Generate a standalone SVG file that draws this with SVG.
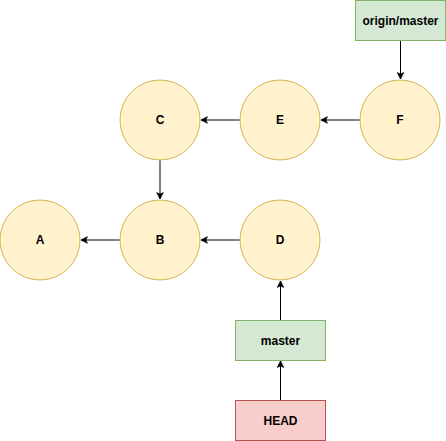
<svg xmlns="http://www.w3.org/2000/svg" width="446" height="441" viewBox="0 0 446 441">
<style>
.commit{fill:#fff2cc;stroke:#d6b656;stroke-width:1}
.ref{fill:#d5e8d4;stroke:#82b366;stroke-width:1}
.head{fill:#f8cecc;stroke:#b85450;stroke-width:1}
.lbl{font-family:"Liberation Sans",Arial,sans-serif;font-size:12px;font-weight:bold;fill:#000;text-anchor:middle;dominant-baseline:central}
.edge{stroke:#000;stroke-width:1;fill:none;marker-end:url(#arr)}
</style>
<defs>
<marker id="arr" viewBox="0 0 10 10" refX="9" refY="5" markerWidth="8" markerHeight="8" markerUnits="userSpaceOnUse" orient="auto">
<path d="M1,1 L9,5 L1,9 L3,5 Z" fill="#000" stroke="#000" stroke-width="1"/>
</marker>
</defs>
<g id="connectors">
<line class="edge" x1="120" y1="240" x2="81" y2="240"/>
<line class="edge" x1="240" y1="240" x2="201" y2="240"/>
<line class="edge" x1="160" y1="160" x2="160" y2="199"/>
<line class="edge" x1="240" y1="120" x2="201" y2="120"/>
<line class="edge" x1="360" y1="120" x2="321" y2="120"/>
<line class="edge" x1="400.5" y1="40.5" x2="400.5" y2="79"/>
<line class="edge" x1="280.5" y1="320" x2="280.5" y2="281"/>
<line class="edge" x1="280.5" y1="400" x2="280.5" y2="361"/>
</g>
<g id="A"><circle class="commit" cx="40" cy="240" r="40"/><text class="lbl" x="40" y="240">A</text></g>
<g id="B"><circle class="commit" cx="160" cy="240" r="40"/><text class="lbl" x="160" y="240">B</text></g>
<g id="C"><circle class="commit" cx="160" cy="120" r="40"/><text class="lbl" x="160" y="120">C</text></g>
<g id="D"><circle class="commit" cx="280" cy="240" r="40"/><text class="lbl" x="280" y="240">D</text></g>
<g id="E"><circle class="commit" cx="280" cy="120" r="40"/><text class="lbl" x="280" y="120">E</text></g>
<g id="F"><circle class="commit" cx="400" cy="120" r="40"/><text class="lbl" x="400" y="120">F</text></g>
<g id="origin-master"><rect class="ref" x="355.5" y="0.5" width="90" height="40"/><text class="lbl" x="400.5" y="20.5">origin/master</text></g>
<g id="master"><rect class="ref" x="235.5" y="320.5" width="90" height="40"/><text class="lbl" x="280.5" y="340.5">master</text></g>
<g id="HEAD"><rect class="head" x="235.5" y="400.5" width="90" height="40"/><text class="lbl" x="280.5" y="420.5">HEAD</text></g>
</svg>
